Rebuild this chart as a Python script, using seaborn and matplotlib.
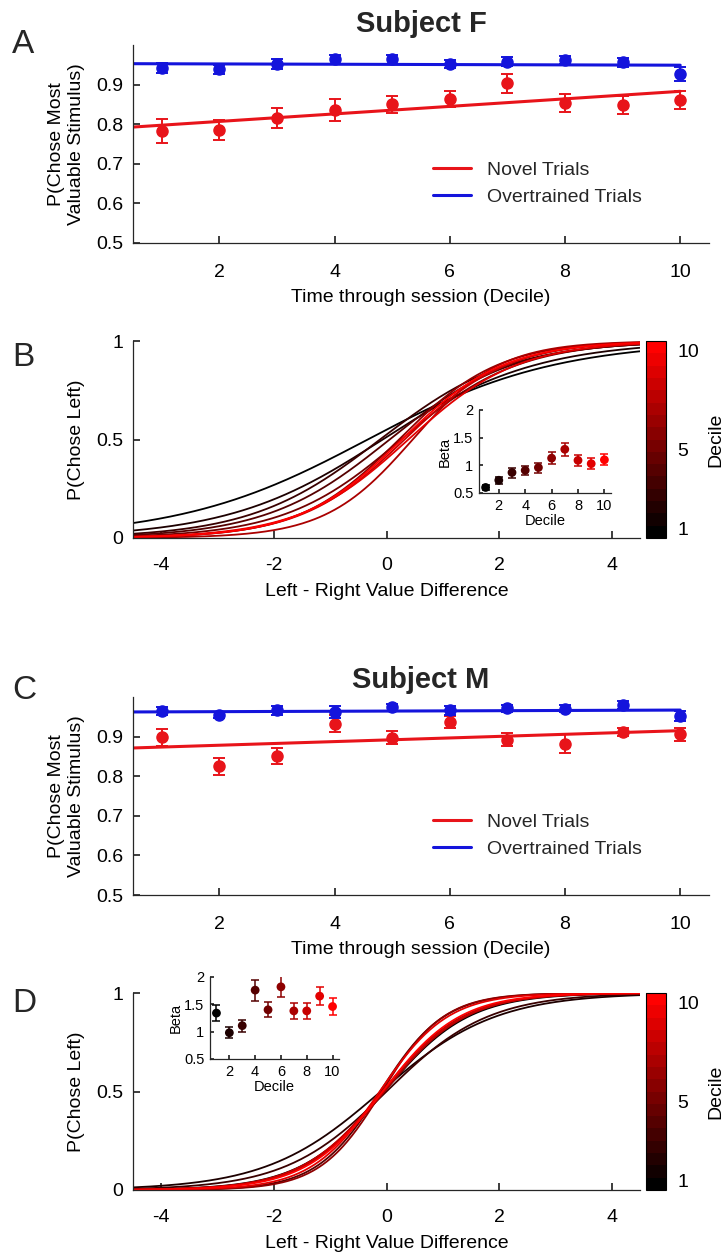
import numpy as np
import pandas as pd
import matplotlib
matplotlib.use("Agg")
import matplotlib.pyplot as plt
import seaborn as sns
from matplotlib.colors import LinearSegmentedColormap, Normalize
from matplotlib.cm import ScalarMappable

# ---------------- data ----------------
decile = [1, 2, 3, 4, 5, 6, 7, 8, 9, 10]

# Subject F: accuracy per decile (mean, s.e.m.)
f_novel = [0.783, 0.786, 0.815, 0.836, 0.850, 0.864, 0.904, 0.854, 0.848, 0.861]
f_novel_err = [0.031, 0.025, 0.025, 0.027, 0.021, 0.021, 0.024, 0.023, 0.023, 0.022]
f_over = [0.942, 0.939, 0.952, 0.964, 0.964, 0.952, 0.958, 0.962, 0.956, 0.927]
f_over_err = [0.012, 0.011, 0.013, 0.011, 0.011, 0.011, 0.012, 0.011, 0.011, 0.018]

# Subject M: accuracy per decile (mean, s.e.m.)
m_novel = [0.898, 0.825, 0.850, 0.933, 0.897, 0.937, 0.892, 0.882, 0.912, 0.906]
m_novel_err = [0.021, 0.022, 0.020, 0.021, 0.016, 0.016, 0.016, 0.024, 0.010, 0.016]
m_over = [0.965, 0.954, 0.966, 0.962, 0.974, 0.966, 0.971, 0.970, 0.979, 0.952]
m_over_err = [0.011, 0.008, 0.011, 0.015, 0.009, 0.011, 0.009, 0.009, 0.010, 0.012]

# linear fits across the session (value at decile 0 and decile 10)
fit_x = [0, 10]
f_novel_fit = [0.788, 0.883]
f_over_fit = [0.953, 0.949]
m_novel_fit = [0.869, 0.915]
m_over_fit = [0.962, 0.967]

# softmax slope (beta) and bias per decile
f_beta = [0.60, 0.73, 0.87, 0.91, 0.96, 1.13, 1.29, 1.09, 1.03, 1.10]
f_beta_err = [0.05, 0.06, 0.09, 0.08, 0.09, 0.11, 0.12, 0.10, 0.10, 0.10]
f_bias = [0.20, 0.05, 0.10, -0.05, -0.25, -0.25, -0.60, -0.35, -0.40, -0.30]

m_beta = [1.34, 0.98, 1.11, 1.76, 1.40, 1.82, 1.38, 1.38, 1.65, 1.46]
m_beta_err = [0.15, 0.10, 0.11, 0.19, 0.14, 0.19, 0.15, 0.15, 0.16, 0.15]
m_bias = [0.05, 0.10, 0.00, 0.20, 0.10, 0.15, 0.05, 0.10, 0.20, 0.10]

# ---------------- style ----------------
sns.set_theme(style="ticks")
plt.rcParams["font.family"] = ["Liberation Sans", "DejaVu Sans"]
plt.rcParams.update({
    "axes.unicode_minus": False,
    "axes.edgecolor": "#262626",
    "axes.linewidth": 0.9,
    "xtick.color": "#262626",
    "ytick.color": "#262626",
    "xtick.labelcolor": "black",
    "ytick.labelcolor": "black",
    "xtick.direction": "in",
    "ytick.direction": "in",
    "axes.labelcolor": "black",
})

RED = "#e8141a"
BLUE = "#1414dc"
FS = 14
W, H = 724, 1253

fig = plt.figure(figsize=(W / 100, H / 100), dpi=100)
fig.patch.set_facecolor("white")


def px_axes(x0, y0, x1, y1):
    return fig.add_axes([x0 / W, 1 - y1 / H, (x1 - x0) / W, (y1 - y0) / H])


decile_colors = {d: ((d - 1) / 9, 0.0, 0.0) for d in decile}
cmap = LinearSegmentedColormap.from_list("black_red", ["black", "red"], N=16)


def accuracy_panel(ax, novel, novel_err, over, over_err, novel_fit, over_fit):
    sns.lineplot(x=fit_x, y=novel_fit, color=RED, lw=2.2, ax=ax, label="Novel Trials")
    sns.lineplot(x=fit_x, y=over_fit, color=BLUE, lw=2.2, ax=ax, label="Overtrained Trials")
    ax.errorbar(decile, novel, yerr=novel_err, fmt="o", color=RED, ms=8,
                capsize=4.5, elinewidth=1.4, capthick=1.4, zorder=3)
    ax.errorbar(decile, over, yerr=over_err, fmt="o", color=BLUE, ms=8,
                capsize=4.5, elinewidth=1.4, capthick=1.4, zorder=4)
    ax.set_xlim(0.5, 10.5)
    ax.set_ylim(0.5, 1.0)
    ax.set_xticks([2, 4, 6, 8, 10])
    ax.set_yticks([0.5, 0.6, 0.7, 0.8, 0.9])
    ax.set_yticklabels(["0.5", "0.6", "0.7", "0.8", "0.9"])
    ax.tick_params(axis="x", labelsize=FS, length=5, pad=15)
    ax.tick_params(axis="y", labelsize=FS, length=5, pad=7)
    ax.set_xlabel("Time through session (Decile)", fontsize=FS, labelpad=6)
    ax.set_ylabel("P(Chose Most\nValuable Stimulus)", fontsize=FS, labelpad=8)
    handles, labels = ax.get_legend_handles_labels()
    ax.legend(handles[:2], labels[:2], loc="center left", bbox_to_anchor=(0.52, 0.30),
              frameon=False, fontsize=FS, handlelength=2.0, handletextpad=0.8,
              labelspacing=0.5, borderpad=0, borderaxespad=0)
    sns.despine(ax=ax)
    ax.set_facecolor("white")


def psychometric_panel(ax, beta, bias):
    dv = np.linspace(-4.5, 4.5, 300)
    frames = []
    for d, b, c in zip(decile, beta, bias):
        frames.append(pd.DataFrame({"dv": dv, "p": 1 / (1 + np.exp(-(b * dv + c))), "decile": d}))
    df = pd.concat(frames, ignore_index=True)
    sns.lineplot(data=df, x="dv", y="p", hue="decile", palette=decile_colors,
                 lw=1.3, legend=False, errorbar=None, ax=ax)
    ax.set_xlim(-4.5, 4.5)
    ax.set_ylim(0, 1)
    ax.set_xticks([-4, -2, 0, 2, 4])
    ax.set_yticks([0, 0.5, 1])
    ax.set_yticklabels(["0", "0.5", "1"])
    ax.tick_params(axis="x", labelsize=FS, length=5, pad=14)
    ax.tick_params(axis="y", labelsize=FS, length=5, pad=7)
    ax.set_xlabel("Left - Right Value Difference", fontsize=FS, labelpad=6)
    ax.set_ylabel("P(Chose Left)", fontsize=FS, labelpad=8)
    sns.despine(ax=ax)
    ax.set_facecolor("white")


def beta_inset(ax, beta, beta_err):
    for d, b, e in zip(decile, beta, beta_err):
        ax.errorbar([d], [b], yerr=[e], fmt="none", ecolor=decile_colors[d],
                    capsize=3.2, elinewidth=1.1, capthick=1.1)
    sns.scatterplot(x=decile, y=beta, hue=decile, palette=decile_colors, s=40,
                    edgecolor="none", legend=False, ax=ax, zorder=3)
    ax.set_xlim(0.5, 10.5)
    ax.set_ylim(0.5, 2)
    ax.set_xticks([2, 4, 6, 8, 10])
    ax.set_yticks([0.5, 1, 1.5, 2])
    ax.set_yticklabels(["0.5", "1", "1.5", "2"])
    ax.tick_params(labelsize=10.5, length=3, pad=4)
    ax.set_xlabel("Decile", fontsize=10.5, labelpad=1)
    ax.set_ylabel("Beta", fontsize=10.5, labelpad=1)
    sns.despine(ax=ax)
    ax.patch.set_alpha(0)


def decile_colorbar(cax):
    cb = fig.colorbar(ScalarMappable(norm=Normalize(0.5, 10.5), cmap=cmap),
                      cax=cax, ticks=[1, 5, 10])
    cb.ax.tick_params(length=0, labelsize=FS, pad=8)
    cb.set_label("Decile", fontsize=FS, labelpad=6)
    cb.outline.set_edgecolor("black")
    cb.outline.set_linewidth(0.8)


# ---------------- panels ----------------
axA = px_axes(133, 45, 709, 243)
accuracy_panel(axA, f_novel, f_novel_err, f_over, f_over_err, f_novel_fit, f_over_fit)

axB = px_axes(133, 341, 640, 538)
psychometric_panel(axB, f_beta, f_bias)
decile_colorbar(px_axes(646, 341, 666, 538))
beta_inset(px_axes(479, 410, 611, 493), f_beta, f_beta_err)

axC = px_axes(133, 697, 709, 895)
accuracy_panel(axC, m_novel, m_novel_err, m_over, m_over_err, m_novel_fit, m_over_fit)

axD = px_axes(133, 993, 640, 1190)
psychometric_panel(axD, m_beta, m_bias)
decile_colorbar(px_axes(646, 993, 666, 1190))
beta_inset(px_axes(210, 977, 339, 1059), m_beta, m_beta_err)

# titles and panel letters
fig.text(421 / W, 1 - 32 / H, "Subject F", fontsize=21, fontweight="bold", ha="center", va="baseline")
fig.text(421 / W, 1 - 688 / H, "Subject M", fontsize=21, fontweight="bold", ha="center", va="baseline")
for letter, ybase in [("A", 53), ("B", 366), ("C", 699), ("D", 1012)]:
    fig.text(12 / W, 1 - ybase / H, letter, fontsize=24, ha="left", va="baseline")

fig.savefig("out.png", dpi=100, facecolor="white")
